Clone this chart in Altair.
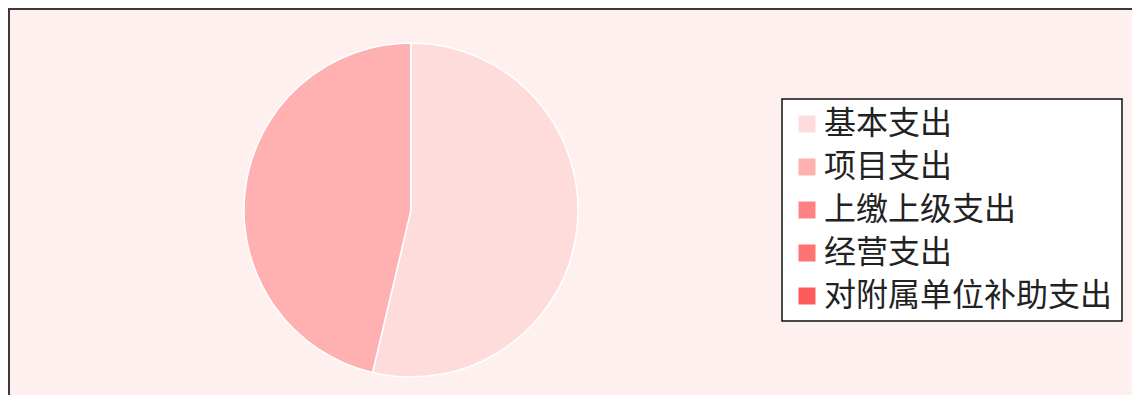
import altair as alt
import pandas as pd

categories = ["基本支出", "项目支出", "上缴上级支出", "经营支出", "对附属单位补助支出"]
values = [53.7, 46.3, 0, 0, 0]
colors = ["#ffdcdc", "#ffb0b0", "#ff8282", "#ff7272", "#ff5a5a"]

df = pd.DataFrame({"类别": categories, "金额": values, "序号": list(range(len(categories)))})

W = 1123
H = 386

pie = (
    alt.Chart(df)
    .mark_arc(radius=167, stroke="white", strokeWidth=1.5)
    .encode(
        theta=alt.Theta("金额:Q", stack=True),
        order=alt.Order("序号:Q"),
        x=alt.value(402),
        y=alt.value(201),
        color=alt.Color(
            "类别:N",
            scale=alt.Scale(domain=categories, range=colors),
            sort=categories,
            legend=alt.Legend(
                title=None,
                orient="none",
                legendX=773,
                legendY=90,
                fillColor="white",
                strokeColor="#111111",
                padding=9,
                symbolType="square",
                symbolSize=289,
                symbolStrokeWidth=0,
                symbolOffset=0,
                labelFont="Noto Sans CJK SC",
                labelFontSize=32,
                labelColor="#222222",
                labelOffset=1,
                labelLimit=400,
                rowPadding=11,
            ),
        ),
    )
)

frame_df = pd.DataFrame({"k": [0]})
top_border = alt.Chart(frame_df).mark_rule(color="#3a3a3a", strokeWidth=2).encode(
    x=alt.value(-1), x2=alt.value(W), y=alt.value(0)
)
left_border = alt.Chart(frame_df).mark_rule(color="#3a3a3a", strokeWidth=2).encode(
    x=alt.value(0), y=alt.value(-1), y2=alt.value(H)
)

chart = (
    alt.layer(pie, top_border, left_border)
    .properties(
        width=W,
        height=H,
        padding={"left": 1, "top": 1, "right": 0, "bottom": 0},
        autosize=alt.AutoSizeParams(type="none"),
        background="#fff0f0",
    )
    .configure_view(fill="#fff0f0", stroke=None, strokeWidth=0)
    .configure_legend(strokeWidth=1.5)
)

chart.save("out.html", embed_options={"renderer": "svg", "actions": False})
